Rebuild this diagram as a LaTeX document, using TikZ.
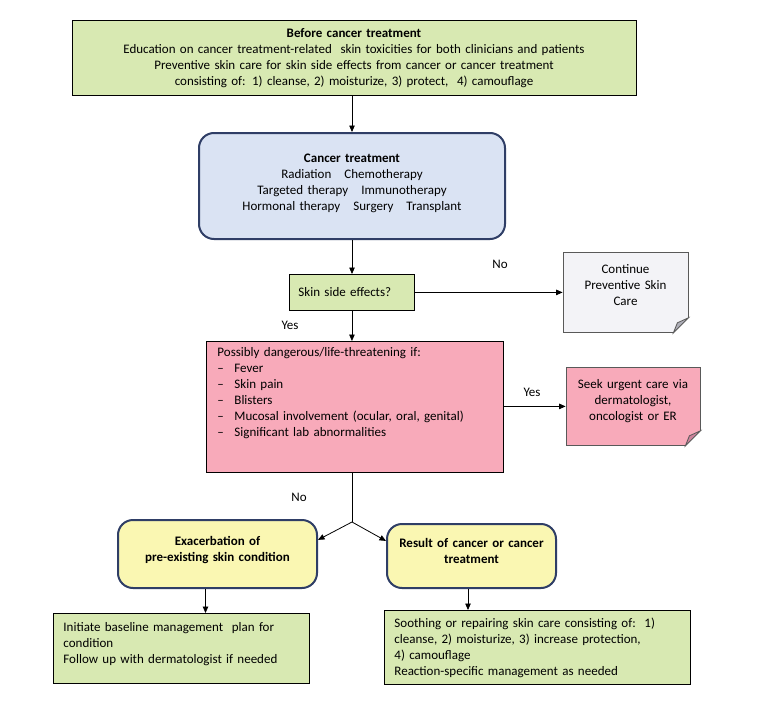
\documentclass[tikz,border=0pt]{standalone}
\usepackage{fontspec}
\setmainfont{Carlito}
\usetikzlibrary{arrows.meta, positioning}

\definecolor{prepgreen}{RGB}{216,233,178}
\definecolor{treatblue}{RGB}{218,227,243}
\definecolor{framenavy}{RGB}{47,62,102}
\definecolor{alertpink}{RGB}{248,170,186}
\definecolor{condyellow}{RGB}{250,247,178}
\definecolor{notegray}{RGB}{243,243,247}
\definecolor{foldgray}{RGB}{175,175,185}
\definecolor{foldpink}{RGB}{205,130,155}

\begin{document}
\begin{tikzpicture}[x=1pt, y=-1pt,
    every node/.style={font=\fontsize{13}{16}\selectfont},
    plainbox/.style={draw=black, line width=0.9pt, fill=prepgreen, inner ysep=0pt, align=center},
    roundbox/.style={draw=framenavy, line width=2pt, rounded corners=15pt, inner sep=0pt, align=center},
    notebox/.style={draw=black!65, line width=0.8pt, inner sep=0pt, align=center},
    flow/.style={-{Triangle[length=6.5pt, width=5.5pt]}, line width=0.8pt},
    answer/.style={inner sep=1pt}]

    \fill[white] (0,0) rectangle (764,720);
    \useasboundingbox (0,0) rectangle (764,720);

    % before and during treatment
    \node[plainbox, anchor=north, inner xsep=0pt, text width=564pt, text height=17pt, text depth=58pt] (before) at (354,20)
        {\textbf{Before cancer treatment}\\
         Education on cancer treatment-related\ \ skin toxicities for both clinicians and patients\\
         Preventive skin care for skin side effects from cancer or cancer treatment\\
         consisting of: 1) cleanse, 2) moisturize, 3) protect,\ \ 4) camouflage};
    \node[roundbox, fill=treatblue, anchor=north, text width=306pt, text height=29pt, text depth=77pt] (treat) at (352,132)
        {\textbf{Cancer treatment}\\
         Radiation\quad Chemotherapy\\
         Targeted therapy\quad Immunotherapy\\
         Hormonal therapy\quad Surgery\quad Transplant};

    % decisions
    \node[plainbox, anchor=north west, align=left, text width=107pt, inner xsep=9pt, text height=22pt, text depth=14pt] (skin) at (289,274)
        {Skin side effects?};
    \node[notebox, fill=notegray, anchor=north, text width=125pt, text height=21pt, text depth=59pt] (cont) at (625.5,252)
        {Continue\\Preventive Skin\\Care};
    \node[plainbox, fill=alertpink, anchor=north west, align=left, text width=275pt, inner xsep=11pt, text height=15pt, text depth=116pt] (danger) at (206,341)
        {Possibly dangerous/life-threatening if:\\
         \makebox[17pt][l]{--}Fever\\
         \makebox[17pt][l]{--}Skin pain\\
         \makebox[17pt][l]{--}Blisters\\
         \makebox[17pt][l]{--}Mucosal involvement (ocular, oral, genital)\\
         \makebox[17pt][l]{--}Significant lab abnormalities};
    \node[notebox, fill=alertpink, anchor=north, text width=134pt, text height=21pt, text depth=57pt] (urgent) at (633,367)
        {Seek urgent care via\\dermatologist,\\oncologist or ER};

    % cause of the reaction
    \coordinate (fork) at (352,522);
    \node[roundbox, fill=condyellow, anchor=north, text width=199pt, text height=25pt, text depth=43pt] (exac) at (217.5,519)
        {\textbf{Exacerbation of}\\\textbf{pre-existing skin condition}};
    \node[roundbox, fill=condyellow, anchor=north, text width=169pt, text height=23pt, text depth=41pt] (result) at (471.5,523)
        {\textbf{Result of cancer or cancer}\\\textbf{treatment}};

    % management
    \node[plainbox, anchor=north west, align=left, text width=235pt, inner xsep=10.5pt, text height=18pt, text depth=52pt] (baseline) at (52.5,613)
        {Initiate baseline management\ \ plan for\\condition\\Follow up with dermatologist if needed};
    \node[plainbox, anchor=north west, align=left, text width=286pt, inner xsep=10pt, text height=17pt, text depth=57pt] (soothing) at (384,610)
        {Soothing or repairing skin care consisting of:\ \ 1)\\
         cleanse, 2) moisturize, 3) increase protection,\\
         4) camouflage\\
         Reaction-specific management as needed};

    % folded corners
    \foreach \n/\f in {cont/foldgray, urgent/foldpink} {
        \fill[white] ([yshift=15pt]\n.south east) -- ([xshift=2pt, yshift=15pt]\n.south east)
            -- ([xshift=2pt, yshift=-2pt]\n.south east) -- ([xshift=-15pt, yshift=-2pt]\n.south east)
            -- ([xshift=-15pt]\n.south east) -- cycle;
        \filldraw[fill=\f, draw=black!65, line width=0.8pt] ([yshift=15pt]\n.south east)
            -- ([xshift=-15pt]\n.south east) -- ([xshift=-11pt, yshift=10pt]\n.south east) -- cycle;
    }

    % arrows
    \draw[flow] (before.south -| treat.north) -- (treat.north);
    \draw[flow] (treat.south) -- (treat.south |- skin.north);
    \draw[flow] (skin.east) -- (cont.west);
    \draw[flow] (skin.south) -- (skin.south |- danger.north);
    \draw[flow] (danger.east |- urgent.west) -- (urgent.west);
    \draw[line width=0.8pt] (danger.south -| fork) -- (fork);
    \draw[flow] (fork) -- (exac.8);
    \draw[flow] (fork) -- (result.170);
    \draw[flow] ([xshift=-12pt]exac.south) -- ([xshift=-12pt]exac.south |- baseline.north);
    \draw[flow] ([xshift=-3.5pt]result.south) -- ([xshift=-3.5pt]result.south |- soothing.north);

    \node[answer] (noside) at (500,264) {No};
    \node[answer] (yesside) at (290,325) {Yes};
    \node[answer] (yesdanger) at (532,392) {Yes};
    \node[answer] (nodanger) at (299,497) {No};
\end{tikzpicture}
\end{document}
